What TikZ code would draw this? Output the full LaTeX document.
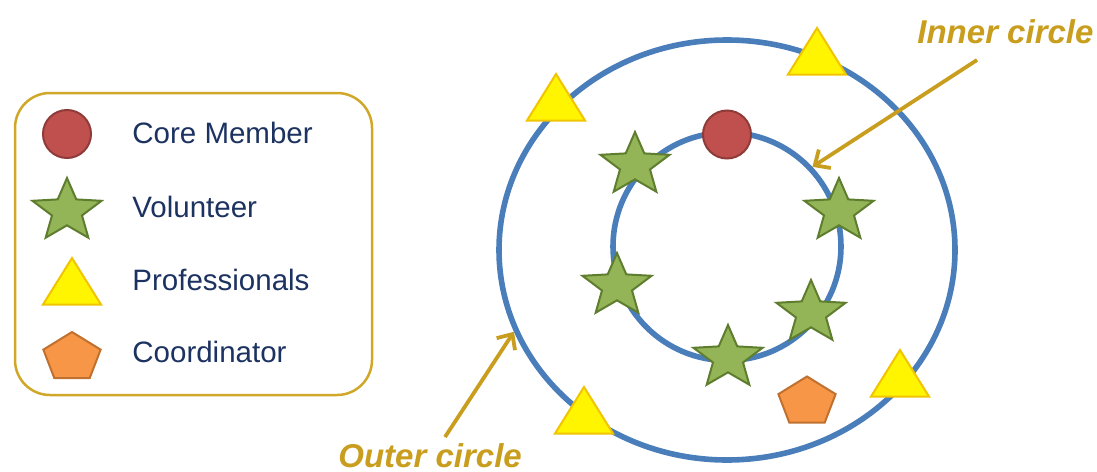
\documentclass[tikz,border=0pt]{standalone}
\usepackage{fontspec}
\setmainfont{Liberation Sans}
\usepackage{xcolor}
\usetikzlibrary{shapes.geometric,arrows.meta}

\definecolor{ringblue}{HTML}{4A7EBB}
\definecolor{gold}{HTML}{C99E1E}
\definecolor{keyframe}{HTML}{D1A72A}
\definecolor{navy}{HTML}{1C3260}
\definecolor{corefill}{HTML}{C0504D}
\definecolor{coreedge}{HTML}{8E3B39}
\definecolor{volfill}{HTML}{93B557}
\definecolor{voledge}{HTML}{5E7D2E}
\definecolor{profill}{HTML}{FFF500}
\definecolor{proedge}{HTML}{F0C400}
\definecolor{coordfill}{HTML}{F79646}
\definecolor{coordedge}{HTML}{C0702F}

\begin{document}
\begin{tikzpicture}[
        x=0.5pt, y=-0.5pt,
        ring/.style={circle, draw=ringblue, line width=2.8pt, inner sep=0pt},
        core/.style={circle, draw=coreedge, fill=corefill, line width=1pt, minimum size=24pt, inner sep=0pt},
        volunteer/.style={star, star points=5, star point ratio=2.3, draw=voledge, fill=volfill, line width=1pt, minimum size=33pt, inner sep=0pt, xscale=1.1},
        professional/.style={regular polygon, regular polygon sides=3, draw=proedge, fill=profill, line width=1pt, minimum size=31pt, inner sep=0pt, xscale=1.08},
        coordinator/.style={regular polygon, regular polygon sides=5, draw=coordedge, fill=coordfill, line width=1pt, minimum size=25.5pt, inner sep=0pt, xscale=1.18},
        keytext/.style={text=navy, font=\fontsize{14.75}{18}\selectfont, anchor=base west, inner sep=0pt},
        callout/.style={text=gold, font=\fontsize{16.5}{20}\selectfont\bfseries\itshape, anchor=base west, inner sep=0pt},
        pointer/.style={draw=gold, line width=1.9pt, -{Straight Barb[length=6pt, width=11pt]}}
    ]
        \useasboundingbox (0,0) rectangle (1097,471);

        % Legend
        \node[draw=keyframe, line width=1.25pt, rounded corners=17.5pt, minimum width=178.5pt, minimum height=151pt, inner sep=0pt] (legend) at (193.5,244) {};
        \node[core] (keycore) at (67,134) {};
        \node[volunteer] (keyvol) at (67,211) {};
        \node[professional] (keypro) at (72,289) {};
        \node[coordinator] (keycoord) at (72,357.5) {};
        \node[keytext] (keycoretext) at (132,143) {Core Member};
        \node[keytext] (keyvoltext) at (132,217) {Volunteer};
        \node[keytext] (keyprotext) at (132,290) {Professionals};
        \node[keytext] (keycoordtext) at (132,362) {Coordinator};

        % Circles
        \node[ring, ellipse, minimum width=228pt, minimum height=210pt] (outer) at (727,250) {};
        \node[ring, minimum size=114pt] (inner) at (727,246.5) {};

        % Inner circle members
        \node[core] (core) at (727,134.5) {};
        \node[volunteer] (vol1) at (635,165) {};
        \node[volunteer] (vol2) at (839,211) {};
        \node[volunteer] (vol3) at (617,286) {};
        \node[volunteer] (vol4) at (811,313) {};
        \node[volunteer] (vol5) at (728,358) {};

        % Outer circle members
        \node[professional] (pro1) at (556,105) {};
        \node[professional] (pro2) at (817,59) {};
        \node[professional] (pro3) at (900,381) {};
        \node[professional] (pro4) at (584,418) {};
        \node[coordinator] (coord) at (807,402) {};

        % Callouts
        \node[callout] (innerlabel) at (917,43) {Inner circle};
        \node[callout] (outerlabel) at (338,467) {Outer circle};
        \coordinate (innertail) at (977,60);
        \coordinate (outertail) at (445,437);
        \draw[pointer] (innertail) -- (inner.43);
        \draw[pointer] (outertail) -- (outer.201);
    \end{tikzpicture}
\end{document}
